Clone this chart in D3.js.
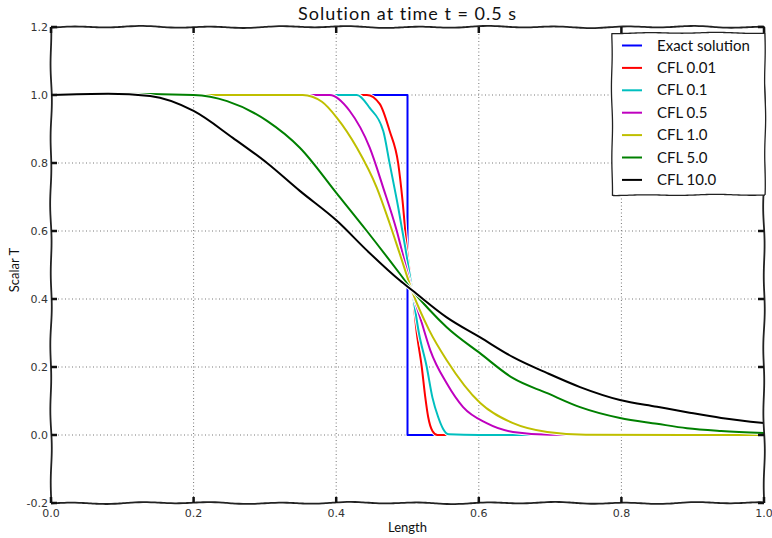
<!DOCTYPE html>
<html>
<head>
<meta charset="utf-8">
<script src="https://cdn.jsdelivr.net/npm/d3@7"></script>
<style>
    body { margin: 0; background: #fff; }
    svg { display: block; }
    .hand { font-family: "Humor Sans", "Comic Sans MS", "Lato", sans-serif; fill: #111; }
    .tickLabel { font-family: "DejaVu Sans", Verdana, sans-serif; font-size: 11px; fill: #333; }
</style>
</head>
<body>
<div id="chart"></div>
<script>
// Series (x = length, y = scalar T)
const exactX = [0.0, 0.5, 0.5, 1.0];
const exactY = [1.0, 1.0, 0.0, 0.0];

const cfl001X = [0.0, 0.08, 0.2, 0.443, 0.461, 0.475, 0.487, 0.493, 0.499, 0.507, 0.513, 0.52, 0.525, 0.529, 0.535, 0.542, 0.6, 1.0];
const cfl001Y = [1.0, 1.004, 1.0, 1.0, 0.974, 0.894, 0.798, 0.69, 0.55, 0.42, 0.3, 0.2, 0.11, 0.053, 0.012, 0.0, 0.0, 0.0];

const cfl01X = [0.0, 0.08, 0.2, 0.429, 0.447, 0.466, 0.475, 0.487, 0.497, 0.507, 0.516, 0.527, 0.535, 0.543, 0.55, 0.558, 0.6, 1.0];
const cfl01Y = [1.0, 1.004, 1.0, 1.0, 0.962, 0.894, 0.798, 0.669, 0.55, 0.42, 0.3, 0.2, 0.11, 0.053, 0.018, 0.002, 0.0, 0.0];

const cfl05X = [0.0, 0.08, 0.2, 0.391, 0.419, 0.447, 0.466, 0.485, 0.496, 0.507, 0.52, 0.532, 0.555, 0.578, 0.611, 0.648, 0.7, 1.0];
const cfl05Y = [1.0, 1.004, 1.0, 1.0, 0.953, 0.845, 0.727, 0.6, 0.51, 0.42, 0.33, 0.249, 0.152, 0.082, 0.035, 0.009, 0.001, 0.0];

const cfl10X = [0.0, 0.08, 0.2, 0.353, 0.38, 0.401, 0.429, 0.457, 0.475, 0.489, 0.507, 0.53, 0.555, 0.602, 0.648, 0.696, 0.75, 1.0];
const cfl10Y = [1.0, 1.004, 1.0, 1.0, 0.98, 0.933, 0.845, 0.727, 0.622, 0.534, 0.42, 0.31, 0.22, 0.094, 0.035, 0.009, 0.001, 0.0];

const cfl50X = [0.0, 0.08, 0.2, 0.247, 0.303, 0.349, 0.401, 0.443, 0.489, 0.507, 0.53, 0.555, 0.602, 0.648, 0.696, 0.742, 0.798, 0.85, 0.892, 0.94, 1.0];
const cfl50Y = [1.0, 1.004, 1.0, 0.982, 0.924, 0.845, 0.71, 0.6, 0.475, 0.425, 0.37, 0.317, 0.24, 0.167, 0.123, 0.082, 0.05, 0.033, 0.02, 0.012, 0.006];

const cfl100X = [0.0, 0.08, 0.139, 0.2, 0.255, 0.303, 0.349, 0.401, 0.443, 0.489, 0.507, 0.555, 0.602, 0.648, 0.696, 0.742, 0.798, 0.85, 0.892, 0.94, 1.0];
const cfl100Y = [1.0, 1.004, 0.997, 0.953, 0.874, 0.8, 0.718, 0.63, 0.543, 0.455, 0.425, 0.346, 0.287, 0.229, 0.182, 0.141, 0.103, 0.083, 0.067, 0.05, 0.035];

const seriesNames = ["Exact solution", "CFL 0.01", "CFL 0.1", "CFL 0.5", "CFL 1.0", "CFL 5.0", "CFL 10.0"];
const seriesX = [exactX, cfl001X, cfl01X, cfl05X, cfl10X, cfl50X, cfl100X];
const seriesY = [exactY, cfl001Y, cfl01Y, cfl05Y, cfl10Y, cfl50Y, cfl100Y];
const seriesColors = ["#0000ff", "#ff0000", "#00bfbf", "#bf00bf", "#bfbf00", "#008000", "#000000"];

const xTicks = [0.0, 0.2, 0.4, 0.6, 0.8, 1.0];
const yTicks = [-0.2, 0.0, 0.2, 0.4, 0.6, 0.8, 1.0, 1.2];

const width = 772, height = 538;
const margin = { left: 51, right: 8, top: 27, bottom: 35 };

const svg = d3.select("#chart").append("svg")
    .attr("width", width)
    .attr("height", height);

const x = d3.scaleLinear().domain([0, 1]).range([margin.left, width - margin.right]);
const y = d3.scaleLinear().domain([-0.2, 1.2]).range([height - margin.bottom, margin.top]);

// Hand drawn looking straight line (xkcd style): a small steady wobble, not data
function wobbly(x1, y1, x2, y2, amp) {
    const len = Math.hypot(x2 - x1, y2 - y1);
    const nx = -(y2 - y1) / len, ny = (x2 - x1) / len;
    const pts = [];
    for (let t = 0; t <= len; t += 4) {
        const off = amp * (0.7 * Math.sin(t / 11 + x1 * 0.3) + 0.4 * Math.sin(t / 29 + y1));
        pts.push([x1 + (x2 - x1) * t / len + nx * off, y1 + (y2 - y1) * t / len + ny * off]);
    }
    pts.push([x2, y2]);
    return d3.line().curve(d3.curveBasis)(pts);
}

// Grid
const grid = svg.append("g").attr("class", "grid");
grid.selectAll(".vgrid")
    .data(xTicks.slice(1, -1))
    .enter()
    .append("line")
    .attr("x1", d => x(d)).attr("x2", d => x(d))
    .attr("y1", y(1.2)).attr("y2", y(-0.2))
    .attr("stroke", "#777").attr("stroke-width", 1)
    .attr("stroke-dasharray", "1,2.5");
grid.selectAll(".hgrid")
    .data(yTicks.slice(1, -1))
    .enter()
    .append("line")
    .attr("x1", x(0)).attr("x2", x(1))
    .attr("y1", d => y(d)).attr("y2", d => y(d))
    .attr("stroke", "#777").attr("stroke-width", 1)
    .attr("stroke-dasharray", "1,2.5");

// Lines (white halo under each like matplotlib xkcd)
const lines = svg.append("g").attr("class", "lines");
seriesNames.forEach((name, i) => {
    const pts = seriesX[i].map((v, j) => [v, seriesY[i][j]]);
    const gen = d3.line()
        .x(d => x(d[0]))
        .y(d => y(d[1]))
        .curve(i === 0 ? d3.curveLinear : d3.curveMonotoneX);
    lines.append("path")
        .attr("d", gen(pts))
        .attr("fill", "none")
        .attr("stroke", "#fff")
        .attr("stroke-width", 4)
        .attr("stroke-linejoin", "round");
    lines.append("path")
        .attr("d", gen(pts))
        .attr("fill", "none")
        .attr("stroke", seriesColors[i])
        .attr("stroke-width", 2)
        .attr("stroke-linejoin", "round");
});

// Spines
const spines = svg.append("g").attr("class", "spines")
    .attr("fill", "none").attr("stroke", "#222").attr("stroke-width", 1.8);
spines.append("path").attr("d", wobbly(x(0), y(1.2), x(1), y(1.2), 1));
spines.append("path").attr("d", wobbly(x(0), y(-0.2), x(1), y(-0.2), 1));
spines.append("path").attr("d", wobbly(x(0), y(-0.2), x(0), y(1.2), 0.8));
spines.append("path").attr("d", wobbly(x(1), y(-0.2), x(1), y(1.2), 0.8));

// Ticks, inside on all four sides
const ticks = svg.append("g").attr("class", "ticks").attr("stroke", "#111").attr("stroke-width", 2.5);
const tickLen = 6;
xTicks.forEach(v => {
    ticks.append("line").attr("x1", x(v)).attr("x2", x(v)).attr("y1", y(-0.2)).attr("y2", y(-0.2) - tickLen);
    ticks.append("line").attr("x1", x(v)).attr("x2", x(v)).attr("y1", y(1.2)).attr("y2", y(1.2) + tickLen);
});
yTicks.forEach(v => {
    ticks.append("line").attr("x1", x(0)).attr("x2", x(0) + tickLen).attr("y1", y(v)).attr("y2", y(v));
    ticks.append("line").attr("x1", x(1)).attr("x2", x(1) - tickLen).attr("y1", y(v)).attr("y2", y(v));
});

// Tick labels
svg.append("g").selectAll("text")
    .data(xTicks)
    .enter()
    .append("text")
    .attr("class", "tickLabel")
    .attr("x", d => x(d))
    .attr("y", y(-0.2) + 14)
    .attr("text-anchor", "middle")
    .text(d => d.toFixed(1));
svg.append("g").selectAll("text")
    .data(yTicks)
    .enter()
    .append("text")
    .attr("class", "tickLabel")
    .attr("x", x(0) - 3)
    .attr("y", d => y(d) + 4)
    .attr("text-anchor", "end")
    .text(d => d.toFixed(1));

// Title and axis labels
svg.append("text")
    .attr("class", "hand")
    .attr("x", (x(0) + x(1)) / 2)
    .attr("y", 20)
    .attr("text-anchor", "middle")
    .style("font-size", "18px")
    .style("letter-spacing", "1px")
    .text("Solution at time t = 0.5 s");
svg.append("text")
    .attr("class", "hand")
    .attr("x", (x(0) + x(1)) / 2)
    .attr("y", 532)
    .attr("text-anchor", "middle")
    .style("font-size", "13px")
    .text("Length");
svg.append("text")
    .attr("class", "hand")
    .attr("transform", "translate(19,270) rotate(-90)")
    .attr("text-anchor", "middle")
    .style("font-size", "13px")
    .text("Scalar T");

// Legend
const legX = 612, legY = 33, legW = 153, legH = 162, rowH = 22.4;
const legend = svg.append("g").attr("class", "legend");
legend.append("rect")
    .attr("x", legX).attr("y", legY).attr("width", legW).attr("height", legH)
    .attr("fill", "#fff");
legend.append("g").attr("fill", "none").attr("stroke", "#222").attr("stroke-width", 1.3)
    .selectAll("path")
    .data([[legX, legY, legX + legW, legY], [legX + legW, legY, legX + legW, legY + legH],
           [legX + legW, legY + legH, legX, legY + legH], [legX, legY + legH, legX, legY]])
    .enter()
    .append("path")
    .attr("d", d => wobbly(d[0], d[1], d[2], d[3], 0.6));
const rows = legend.selectAll(".legRow")
    .data(seriesNames)
    .enter()
    .append("g")
    .attr("class", "legRow")
    .attr("transform", (d, i) => "translate(" + legX + "," + (legY + 12.5 + i * rowH) + ")");
rows.append("line")
    .attr("x1", 10).attr("x2", 30)
    .attr("stroke", (d, i) => seriesColors[i])
    .attr("stroke-width", 2);
rows.append("text")
    .attr("class", "hand")
    .attr("x", 45)
    .attr("y", 5)
    .style("font-size", "15px")
    .text(d => d);
</script>
</body>
</html>
